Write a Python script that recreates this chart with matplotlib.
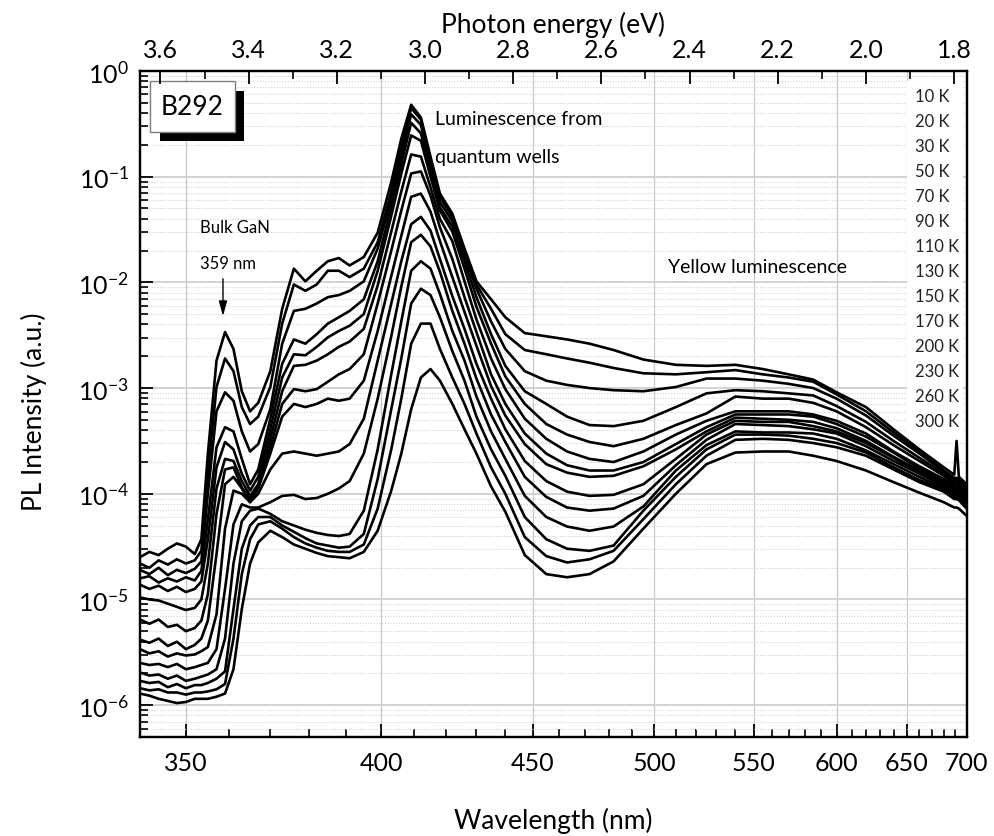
"""
Temperature-dependent PL spectra of sample B292 (10 K - 300 K).

Log intensity vs wavelength; the wavelength axis is drawn linear in photon
energy, and the top axis shows that energy directly.
"""

import matplotlib
matplotlib.use("Agg")
import matplotlib.pyplot as plt
import numpy as np
from matplotlib.patches import Rectangle
from matplotlib.ticker import FixedLocator, FuncFormatter, LogLocator, NullFormatter

HC = 1239.84  # eV * nm

# ---------------------------------------------------------------------------
# Values: wavelength grid (nm) and log10(PL intensity)
# ---------------------------------------------------------------------------
wavelength_nm = [340, 342, 344, 346, 348, 350, 352,
                 353.5, 355, 357, 359, 361, 363, 365, 367,
                 370, 373, 376, 379, 382, 385, 388, 391, 395, 399, 403, 406, 409,
                 412, 415, 418, 422, 426, 430, 435, 440,
                 447, 455, 463, 472, 482, 495, 510, 525,
                 540, 555, 570, 585, 600, 620, 640, 660, 680, 689, 691, 693, 699]

temperatures_K = [10, 20, 30, 50, 70, 90, 110, 130, 150, 170, 200, 230, 260, 300]

logI_10K = [-4.60, -4.55, -4.58, -4.52, -4.47, -4.50, -4.57,
            -4.43, -3.62, -2.74, -2.47, -2.63, -3.03, -3.22, -3.14,
            -2.84, -2.25, -1.87, -1.99, -1.89, -1.80, -1.77, -1.84, -1.76, -1.53, -1.05, -0.64, -0.32,
            -0.44, -0.81, -1.16, -1.35, -1.68, -1.99, -2.16, -2.33,
            -2.48, -2.51, -2.54, -2.58, -2.64, -2.73, -2.78, -2.79,
            -2.78, -2.82, -2.87, -2.92, -3.04, -3.18, -3.39, -3.58, -3.75, -3.82, -3.50, -3.84, -3.90]
logI_20K = [-4.66, -4.70, -4.63, -4.67, -4.62, -4.66, -4.63,
            -4.54, -3.81, -2.99, -2.72, -2.84, -3.18, -3.34, -3.27,
            -2.99, -2.39, -2.02, -2.08, -2.02, -1.89, -1.89, -1.95, -1.87, -1.62, -1.14, -0.72, -0.35,
            -0.46, -0.85, -1.19, -1.38, -1.71, -2.02, -2.25, -2.49,
            -2.64, -2.68, -2.72, -2.76, -2.81, -2.86, -2.87, -2.85,
            -2.83, -2.87, -2.90, -2.94, -3.06, -3.22, -3.42, -3.60, -3.78, -3.85, -3.85, -3.86, -3.92]
logI_30K = [-4.72, -4.76, -4.70, -4.77, -4.72, -4.75, -4.71,
            -4.64, -4.00, -3.22, -3.04, -3.12, -3.41, -3.60, -3.53,
            -3.20, -2.58, -2.27, -2.25, -2.20, -2.14, -2.12, -2.08, -1.99, -1.68, -1.21, -0.80, -0.41,
            -0.51, -0.90, -1.24, -1.42, -1.74, -2.06, -2.37, -2.63,
            -2.84, -2.93, -2.97, -3.00, -3.02, -3.03, -2.99, -2.91,
            -2.91, -2.93, -2.96, -3.00, -3.10, -3.26, -3.45, -3.62, -3.79, -3.87, -3.87, -3.88, -3.94]
logI_50K = [-4.80, -4.78, -4.84, -4.80, -4.83, -4.79, -4.82,
            -4.73, -4.24, -3.56, -3.37, -3.41, -3.67, -3.91, -3.77,
            -3.29, -2.77, -2.54, -2.58, -2.49, -2.39, -2.33, -2.27, -2.16, -1.80, -1.28, -0.88, -0.49,
            -0.59, -0.95, -1.29, -1.47, -1.80, -2.14, -2.49, -2.79,
            -3.03, -3.15, -3.27, -3.35, -3.36, -3.31, -3.18, -3.05,
            -3.02, -3.03, -3.05, -3.07, -3.17, -3.32, -3.50, -3.66, -3.81, -3.89, -3.89, -3.90, -3.95]
logI_70K = [-4.86, -4.90, -4.87, -4.92, -4.88, -4.93, -4.90,
            -4.83, -4.43, -3.75, -3.51, -3.58, -3.81, -3.97, -3.84,
            -3.39, -2.90, -2.68, -2.69, -2.61, -2.52, -2.46, -2.41, -2.30, -1.89, -1.37, -0.97, -0.61,
            -0.66, -1.00, -1.32, -1.52, -1.87, -2.23, -2.58, -2.89,
            -3.15, -3.34, -3.44, -3.51, -3.55, -3.48, -3.35, -3.24,
            -3.08, -3.10, -3.10, -3.14, -3.22, -3.37, -3.54, -3.69, -3.83, -3.91, -3.91, -3.92, -3.97]
logI_90K = [-4.98, -5.00, -5.01, -5.04, -5.07, -5.10, -5.08,
            -5.00, -4.66, -3.95, -3.67, -3.69, -3.88, -4.02, -3.91,
            -3.48, -3.03, -2.79, -2.78, -2.74, -2.68, -2.61, -2.56, -2.44, -2.03, -1.52, -1.14, -0.79,
            -0.81, -1.10, -1.40, -1.61, -1.99, -2.35, -2.72, -3.01,
            -3.29, -3.48, -3.60, -3.67, -3.70, -3.60, -3.44, -3.31,
            -3.22, -3.22, -3.22, -3.25, -3.31, -3.43, -3.60, -3.74, -3.86, -3.93, -3.93, -3.94, -3.99]
logI_110K = [-5.19, -5.23, -5.19, -5.26, -5.24, -5.30, -5.27,
             -5.20, -4.95, -4.19, -3.77, -3.75, -3.94, -4.05, -3.94,
             -3.56, -3.15, -3.01, -3.03, -3.01, -2.94, -2.87, -2.82, -2.68, -2.20, -1.70, -1.32, -0.97,
             -0.95, -1.18, -1.48, -1.78, -2.14, -2.47, -2.87, -3.15,
             -3.43, -3.62, -3.73, -3.78, -3.78, -3.70, -3.53, -3.37,
             -3.25, -3.25, -3.25, -3.27, -3.34, -3.46, -3.61, -3.76, -3.88, -3.95, -3.95, -3.96, -4.01]
logI_130K = [-5.38, -5.41, -5.37, -5.44, -5.40, -5.47, -5.43,
             -5.37, -5.20, -4.57, -3.91, -3.84, -3.95, -4.08, -3.95,
             -3.62, -3.27, -3.15, -3.18, -3.15, -3.10, -3.12, -3.10, -2.93, -2.46, -1.94, -1.56, -1.19,
             -1.16, -1.33, -1.61, -1.95, -2.28, -2.60, -2.98, -3.26,
             -3.53, -3.72, -3.80, -3.84, -3.83, -3.74, -3.58, -3.41,
             -3.28, -3.29, -3.30, -3.32, -3.38, -3.50, -3.65, -3.78, -3.90, -3.97, -3.97, -3.98, -4.03]
logI_150K = [-5.47, -5.51, -5.49, -5.54, -5.51, -5.53, -5.52,
             -5.49, -5.45, -5.14, -4.33, -3.97, -4.00, -4.08, -4.00,
             -3.77, -3.62, -3.60, -3.62, -3.64, -3.62, -3.60, -3.53, -3.29, -2.74, -2.20, -1.80, -1.45,
             -1.38, -1.51, -1.78, -2.13, -2.44, -2.77, -3.10, -3.39,
             -3.69, -3.88, -3.98, -4.02, -4.01, -3.91, -3.67, -3.44,
             -3.31, -3.32, -3.32, -3.36, -3.41, -3.52, -3.66, -3.80, -3.92, -3.98, -3.98, -3.99, -4.05]
logI_170K = [-5.60, -5.62, -5.61, -5.64, -5.61, -5.66, -5.64,
             -5.62, -5.60, -5.47, -4.90, -4.29, -4.10, -4.13, -4.13,
             -4.08, -4.02, -4.01, -4.05, -4.04, -4.00, -3.95, -3.88, -3.62, -3.10, -2.51, -2.04, -1.62,
             -1.55, -1.66, -1.90, -2.27, -2.58, -2.91, -3.25, -3.51,
             -3.84, -4.03, -4.13, -4.16, -4.14, -4.02, -3.73, -3.49,
             -3.34, -3.35, -3.36, -3.39, -3.43, -3.55, -3.69, -3.81, -3.93, -4.00, -4.00, -4.01, -4.07]
logI_200K = [-5.69, -5.72, -5.71, -5.75, -5.72, -5.77, -5.75,
             -5.73, -5.71, -5.66, -5.37, -4.66, -4.26, -4.16, -4.14,
             -4.19, -4.26, -4.30, -4.34, -4.37, -4.39, -4.40, -4.38, -4.16, -3.58, -2.87, -2.37, -1.89,
             -1.80, -1.87, -2.11, -2.46, -2.74, -3.08, -3.41, -3.67,
             -4.02, -4.22, -4.31, -4.35, -4.31, -4.12, -3.78, -3.54,
             -3.41, -3.42, -3.42, -3.43, -3.48, -3.59, -3.72, -3.84, -3.95, -4.02, -4.02, -4.03, -4.09]
logI_230K = [-5.77, -5.79, -5.78, -5.83, -5.80, -5.84, -5.81,
             -5.81, -5.79, -5.75, -5.68, -5.09, -4.52, -4.30, -4.22,
             -4.22, -4.30, -4.36, -4.42, -4.47, -4.49, -4.51, -4.50, -4.38, -3.86, -3.20, -2.72, -2.20,
             -2.06, -2.12, -2.33, -2.65, -2.93, -3.27, -3.58, -3.83,
             -4.22, -4.43, -4.52, -4.54, -4.49, -4.16, -3.84, -3.58,
             -3.44, -3.44, -3.45, -3.48, -3.52, -3.61, -3.75, -3.87, -3.96, -4.03, -4.03, -4.04, -4.11]
logI_260K = [-5.84, -5.86, -5.85, -5.88, -5.88, -5.90, -5.88,
             -5.88, -5.87, -5.85, -5.80, -5.37, -4.76, -4.43, -4.29,
             -4.26, -4.33, -4.41, -4.47, -4.51, -4.54, -4.55, -4.55, -4.48, -4.14, -3.58, -3.10, -2.58,
             -2.39, -2.39, -2.63, -2.90, -3.15, -3.43, -3.75, -4.00,
             -4.41, -4.59, -4.65, -4.62, -4.54, -4.24, -3.91, -3.64,
             -3.49, -3.48, -3.49, -3.52, -3.56, -3.64, -3.77, -3.89, -3.98, -4.05, -4.05, -4.06, -4.13]
logI_300K = [-5.89, -5.91, -5.94, -5.96, -5.98, -5.97, -5.94,
             -5.94, -5.94, -5.92, -5.89, -5.66, -5.09, -4.66, -4.46,
             -4.35, -4.41, -4.48, -4.52, -4.56, -4.59, -4.60, -4.61, -4.55, -4.35, -3.97, -3.62, -3.20,
             -2.90, -2.82, -2.93, -3.15, -3.39, -3.62, -3.93, -4.17,
             -4.58, -4.76, -4.79, -4.76, -4.64, -4.33, -4.00, -3.72,
             -3.61, -3.60, -3.60, -3.64, -3.69, -3.78, -3.89, -3.99, -4.08, -4.13, -4.13, -4.14, -4.20]

spectra = [logI_10K, logI_20K, logI_30K, logI_50K, logI_70K, logI_90K, logI_110K,
           logI_130K, logI_150K, logI_170K, logI_200K, logI_230K, logI_260K, logI_300K]

wl_major = [350, 400, 450, 500, 550, 600, 650, 700]
ev_major = [3.6, 3.4, 3.2, 3.0, 2.8, 2.6, 2.4, 2.2, 2.0, 1.8]
ev_minor = [3.5, 3.3, 3.1, 2.9, 2.7, 2.5, 2.3, 2.1, 1.9]

WL_MIN, WL_MAX = 340.0, 700.2

plt.rcParams["font.family"] = ["Lato", "DejaVu Sans"]
plt.rcParams["mathtext.fontset"] = "custom"
plt.rcParams["mathtext.rm"] = "Lato"
plt.rcParams["mathtext.default"] = "regular"


def nm_to_axis(w):
    # -hc/lambda: monotonic in lambda and linear in photon energy
    w = np.asarray(w, dtype=float)
    with np.errstate(divide="ignore", invalid="ignore"):
        return -HC / w


def main() -> None:
    fig = plt.figure(figsize=(9.94, 8.37), dpi=100)
    ax = fig.add_axes([0.1408, 0.1183, 0.832, 0.7957])

    ax.set_xscale("function", functions=(nm_to_axis, nm_to_axis))
    ax.set_yscale("log")

    for logs in spectra:
        ax.plot(wavelength_nm, 10.0 ** np.asarray(logs), color="black", lw=1.9,
                solid_joinstyle="round", zorder=3)

    ax.set_xlim(WL_MIN, WL_MAX)
    ax.set_ylim(5e-7, 1.0)

    # --- bottom axis: wavelength ---
    ax.xaxis.set_major_locator(FixedLocator(wl_major))
    ax.xaxis.set_minor_locator(FixedLocator([w for w in range(340, 700, 10) if w % 50]))
    ax.xaxis.set_major_formatter(FuncFormatter(lambda v, p: f"{v:.0f}"))
    ax.xaxis.set_minor_formatter(NullFormatter())

    ax.yaxis.set_major_locator(FixedLocator([10.0 ** k for k in range(-6, 1)]))
    ax.yaxis.set_minor_locator(LogLocator(base=10, subs=np.arange(2, 10), numticks=30))
    ax.yaxis.set_minor_formatter(NullFormatter())

    ax.tick_params(axis="both", which="major", direction="in", length=9.5, width=1.3,
                   labelsize=18, top=False, right=False)
    ax.tick_params(axis="both", which="minor", direction="in", length=5.5, width=1.2,
                   top=False, right=False)
    ax.tick_params(axis="x", which="major", pad=10)
    ax.tick_params(axis="y", which="major", pad=8)

    ax.grid(True, which="major", axis="x", color="#c8c8c8", lw=0.9)
    ax.grid(True, which="major", axis="y", color="#d2d2d2", lw=1.4)
    ax.grid(True, which="minor", axis="y", color="#d2d2d2", lw=0.8, ls=(0, (1, 1.5)))

    ax.set_xlabel("Wavelength (nm)", fontsize=19)
    ax.xaxis.set_label_coords(0.5, -0.105)
    ax.set_ylabel("PL Intensity (a.u.)", fontsize=19)
    ax.yaxis.set_label_coords(-0.113, 0.49)

    # --- top axis: photon energy (linear) ---
    top = ax.twiny()
    top.set_xlim(HC / WL_MIN, HC / WL_MAX)
    top.xaxis.set_major_locator(FixedLocator(ev_major))
    top.xaxis.set_minor_locator(FixedLocator(ev_minor))
    top.xaxis.set_major_formatter(FuncFormatter(lambda v, p: f"{v:.1f}"))
    top.tick_params(axis="x", which="major", direction="in", length=9.5, width=1.3,
                    labelsize=18, pad=7)
    top.tick_params(axis="x", which="minor", direction="in", length=5.5, width=1.2)
    top.set_xlabel("Photon energy (eV)", fontsize=19)
    top.xaxis.set_label_coords(0.5, 1.058)

    for a in (ax, top):
        for sp in a.spines.values():
            sp.set_linewidth(1.6)

    # --- sample tag with drop shadow ---
    ax.add_patch(Rectangle((0.0242, 0.895), 0.1016, 0.075, transform=ax.transAxes,
                           facecolor="black", edgecolor="none", zorder=5))
    ax.add_patch(Rectangle((0.0121, 0.9084), 0.1028, 0.0766, transform=ax.transAxes,
                           facecolor="white", edgecolor="#7f7f7f", lw=1.0, zorder=6))
    ax.text(0.0635, 0.9467, "B292", transform=ax.transAxes, fontsize=19,
            ha="center", va="center", zorder=7)

    # --- annotations ---
    ax.text(0.0726, 0.7658, "Bulk GaN", transform=ax.transAxes, fontsize=12,
            ha="left", va="center", zorder=7)
    ax.text(0.0726, 0.7117, "359 nm", transform=ax.transAxes, fontsize=12,
            ha="left", va="center", zorder=7)
    ax.annotate("", xy=(0.1004, 0.632), xytext=(0.1004, 0.688),
                xycoords="axes fraction", textcoords="axes fraction",
                arrowprops=dict(arrowstyle="-|>,head_length=0.9,head_width=0.25",
                                color="black", lw=1.0, shrinkA=0, shrinkB=0),
                zorder=7)
    ax.text(0.3567, 0.9294, "Luminescence from", transform=ax.transAxes, fontsize=14,
            ha="left", va="center", zorder=7)
    ax.text(0.3567, 0.8709, "quantum wells", transform=ax.transAxes, fontsize=14,
            ha="left", va="center", zorder=7)
    ax.text(0.6385, 0.7057, "Yellow luminescence", transform=ax.transAxes, fontsize=14,
            ha="left", va="center", zorder=7)

    # --- temperature list (white panel hides the grid behind it) ---
    ax.add_patch(Rectangle((0.9274, 0.4474), 0.0678, 0.5376, transform=ax.transAxes,
                           facecolor="white", edgecolor="none", zorder=2))
    for i, t in enumerate(temperatures_K):
        ax.text(0.9371, 0.9625 - i * 0.03754, f"{t} K", transform=ax.transAxes,
                fontsize=12, ha="left", va="center", color="#222222", zorder=7)

    fig.savefig("out.png", dpi=100)


if __name__ == "__main__":
    main()
